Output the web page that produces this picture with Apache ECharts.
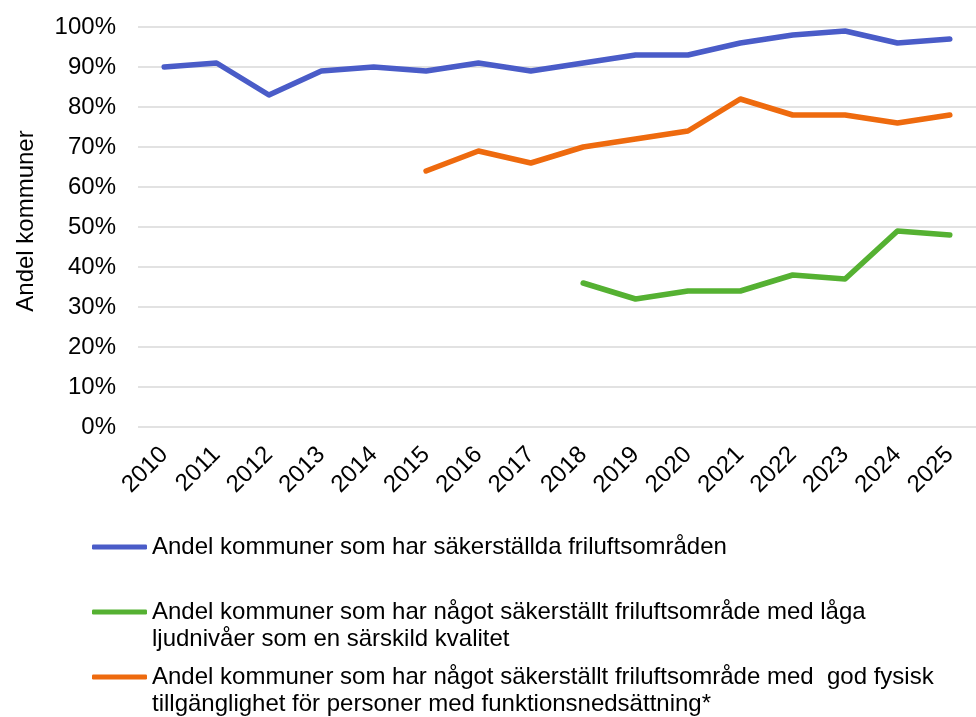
<!DOCTYPE html>
<html>
<head>
<meta charset="utf-8">
<script src="https://cdn.jsdelivr.net/npm/echarts@6/dist/echarts.min.js"></script>
<style>
  html, body { margin: 0; padding: 0; background: #fff; }
  #chart { width: 976px; height: 717px; }
</style>
</head>
<body>
<div id="chart"></div>
<script>
// Years on the category axis
const years = ['2010', '2011', '2012', '2013', '2014', '2015', '2016', '2017',
               '2018', '2019', '2020', '2021', '2022', '2023', '2024', '2025'];

// Share of municipalities (%) per year; null where no survey data exists
const sakerstallda = [90, 91, 83, 89, 90, 89, 91, 89, 91, 93, 93, 96, 98, 99, 96, 97];
const lagaLjudnivaer = [null, null, null, null, null, null, null, null, 36, 32, 34, 34, 38, 37, 49, 48];
const fysiskTillganglighet = [null, null, null, null, null, 64, 69, 66, 70, 72, 74, 82, 78, 78, 76, 78];

// Legend text, one entry per line
const labelSakerstallda = ['Andel kommuner som har säkerställda friluftsområden'];
const labelLaga = ['Andel kommuner som har något säkerställt friluftsområde med låga',
                   'ljudnivåer som en särskild kvalitet'];
const labelFysisk = ['Andel kommuner som har något säkerställt friluftsområde med  god fysisk',
                     'tillgänglighet för personer med funktionsnedsättning*'];

const yTicks = { min: 0, max: 100, interval: 10 };
const yTitle = 'Andel kommuner';

const FONT = '"Liberation Sans", Arial, sans-serif';
const BLUE = '#4a5cc8';
const GREEN = '#55b132';
const ORANGE = '#ee6a0e';
const LINE_H = 27;

const nameA = labelSakerstallda.join(' ');
const nameB = labelLaga.join(' ');
const nameC = labelFysisk.join(' ');

function lineSeries(name, data, color) {
  return {
    name: name,
    type: 'line',
    data: data,
    showSymbol: false,
    symbol: 'none',
    connectNulls: false,
    color: color,
    lineStyle: { width: 5.5, color: color, cap: 'round', join: 'round' },
    emphasis: { disabled: true },
    z: 3
  };
}

// One legend block per series; multi-line entries get a blank leading line so
// the swatch sits level with the first line of text.
function legendFor(name, lines, iconY) {
  const shown = lines.length > 1 ? [''].concat(lines) : lines;
  const boxH = shown.length * LINE_H;
  return {
    show: true,
    orient: 'vertical',
    left: 92,
    top: iconY - boxH / 2,
    padding: 0,
    icon: 'roundRect',
    itemWidth: 55,
    itemHeight: 5,
    selectedMode: false,
    data: [name],
    formatter: function () { return shown.join('\n'); },
    textStyle: { fontFamily: FONT, fontSize: 24, color: '#000', lineHeight: LINE_H }
  };
}

const chart = echarts.init(document.getElementById('chart'), null, { renderer: 'canvas' });

chart.setOption({
  animation: false,
  backgroundColor: '#fff',
  grid: { left: 138, width: 850, top: 27, height: 400, containLabel: false },
  xAxis: {
    type: 'category',
    data: years,
    boundaryGap: true,
    axisLine: { show: false },
    axisTick: { show: false },
    axisLabel: {
      rotate: 45,
      margin: 24,
      interval: 0,
      fontFamily: FONT,
      fontSize: 24,
      color: '#000'
    }
  },
  yAxis: {
    type: 'value',
    min: yTicks.min,
    max: yTicks.max,
    interval: yTicks.interval,
    name: yTitle,
    nameLocation: 'middle',
    nameGap: 100,
    nameTextStyle: { fontFamily: FONT, fontSize: 24, color: '#000', padding: [0, 0, 0, 12] },
    axisLine: { show: false },
    axisTick: { show: false },
    axisLabel: {
      margin: 22,
      fontFamily: FONT,
      fontSize: 24,
      color: '#000',
      formatter: '{value}%'
    },
    splitLine: { lineStyle: { color: '#d9d9d9', width: 1.5 } }
  },
  legend: [
    legendFor(nameA, labelSakerstallda, 547),
    legendFor(nameB, labelLaga, 612),
    legendFor(nameC, labelFysisk, 677)
  ],
  series: [
    lineSeries(nameA, sakerstallda, BLUE),
    lineSeries(nameB, lagaLjudnivaer, GREEN),
    lineSeries(nameC, fysiskTillganglighet, ORANGE)
  ]
});
</script>
</body>
</html>
